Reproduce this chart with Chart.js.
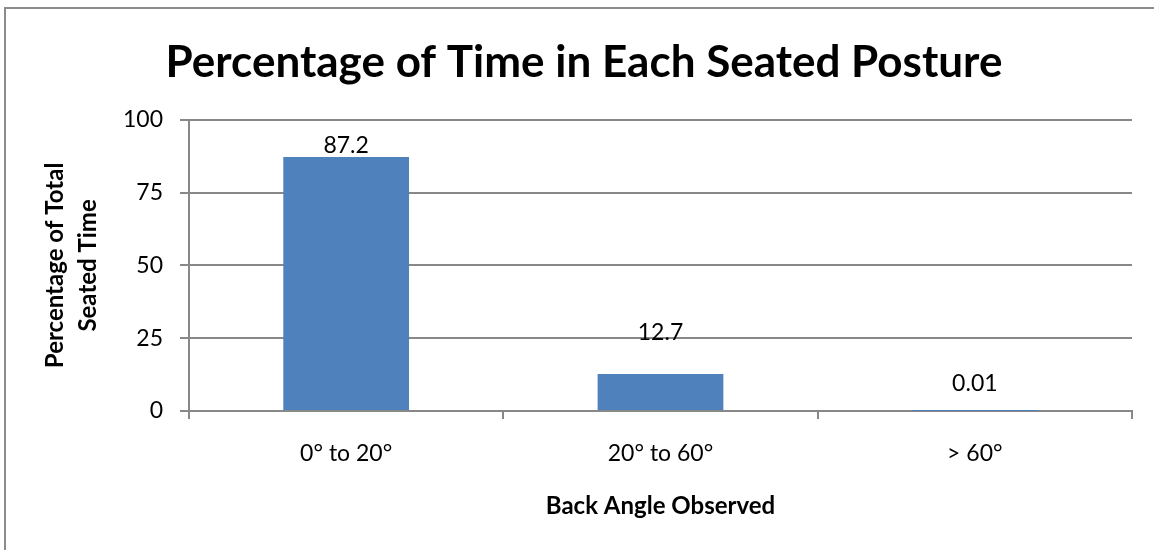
<!DOCTYPE html>
<html>
<head>
<meta charset="utf-8">
<title>Percentage of Time in Each Seated Posture</title>
<script src="https://cdn.jsdelivr.net/npm/chart.js@4/dist/chart.umd.min.js"></script>
<style>
  html, body { margin: 0; padding: 0; background: #fff; }
  #wrap { width: 1154px; height: 550px; position: relative; }
</style>
</head>
<body>
<div id="wrap"><canvas id="postureChart"></canvas></div>
<script>
  // Categories and values
  const angles = ["0\u00b0 to 20\u00b0", "20\u00b0 to 60\u00b0", "> 60\u00b0"];
  const percentTime = [87.2, 12.7, 0.01];
  const percentLabels = ["87.2", "12.7", "0.01"];
  const yTicks = [0, 25, 50, 75, 100];

  // How far each value label's centre sits above its bar top (px)
  const labelLift = [11, 41, 27];

  const FONT = "Lato, 'Open Sans', sans-serif";
  const GRID = "#888888";

  // Outer frame around the whole chart
  const framePlugin = {
    id: "frame",
    beforeDraw(chart) {
      const ctx = chart.ctx;
      ctx.save();
      ctx.fillStyle = "#fff";
      ctx.fillRect(0, 0, chart.width, chart.height);
      ctx.strokeStyle = "#8c8c8c";
      ctx.lineWidth = 2;
      ctx.strokeRect(5, 8, chart.width + 20, chart.height + 20);
      ctx.restore();
    }
  };

  // Value labels above the bars
  const valueLabels = {
    id: "valueLabels",
    afterDatasetsDraw(chart) {
      const ctx = chart.ctx;
      const meta = chart.getDatasetMeta(0);
      ctx.save();
      ctx.font = "23px " + FONT;
      ctx.fillStyle = "#000";
      ctx.textAlign = "center";
      ctx.textBaseline = "middle";
      meta.data.forEach((bar, i) => {
        ctx.fillText(percentLabels[i], bar.x, bar.y - labelLift[i]);
      });
      ctx.restore();
    }
  };

  new Chart(document.getElementById("postureChart"), {
    type: "bar",
    data: {
      labels: angles,
      datasets: [{
        data: percentTime,
        backgroundColor: "#4f81bd",
        borderWidth: 0,
        categoryPercentage: 1,
        barPercentage: 0.4
      }]
    },
    options: {
      responsive: true,
      maintainAspectRatio: false,
      animation: false,
      layout: { padding: { left: 36, right: 22, top: 0, bottom: 0 } },
      plugins: {
        legend: { display: false },
        tooltip: { enabled: false },
        title: {
          display: true,
          text: "Percentage of Time in Each Seated Posture",
          color: "#000",
          font: { family: FONT, size: 44, weight: "bold", lineHeight: 1.2 },
          padding: { top: 36, bottom: 31 }
        }
      },
      scales: {
        x: {
          z: 1, // axis line sits over the bar bottoms
          afterFit(scale) { scale.height = 139; },
          grid: {
            offset: true,
            drawOnChartArea: false,
            drawTicks: true,
            tickLength: 8,
            color: GRID,
            lineWidth: 2
          },
          border: { display: true, color: GRID, width: 2 },
          ticks: {
            color: "#000",
            padding: 21,
            font: { family: FONT, size: 23 }
          },
          title: {
            display: true,
            text: "Back Angle Observed",
            color: "#000",
            font: { family: FONT, size: 24, weight: "bold", lineHeight: 1.2 },
            padding: { top: 10, bottom: 29 }
          }
        },
        y: {
          min: 0,
          max: 100,
          afterFit(scale) { scale.width = 153; },
          afterBuildTicks(scale) { scale.ticks = yTicks.map(v => ({ value: v })); },
          grid: {
            color: GRID,
            lineWidth: 2,
            tickLength: 9
          },
          border: { display: true, color: GRID, width: 2 },
          ticks: {
            color: "#000",
            padding: 17,
            font: { family: FONT, size: 23 }
          },
          title: {
            display: true,
            text: ["Percentage of Total", "Seated Time"],
            color: "#000",
            font: { family: FONT, size: 24, weight: "bold", lineHeight: 1.4 },
            padding: { top: 2, bottom: 0 }
          }
        }
      }
    },
    plugins: [framePlugin, valueLabels]
  });
</script>
</body>
</html>
